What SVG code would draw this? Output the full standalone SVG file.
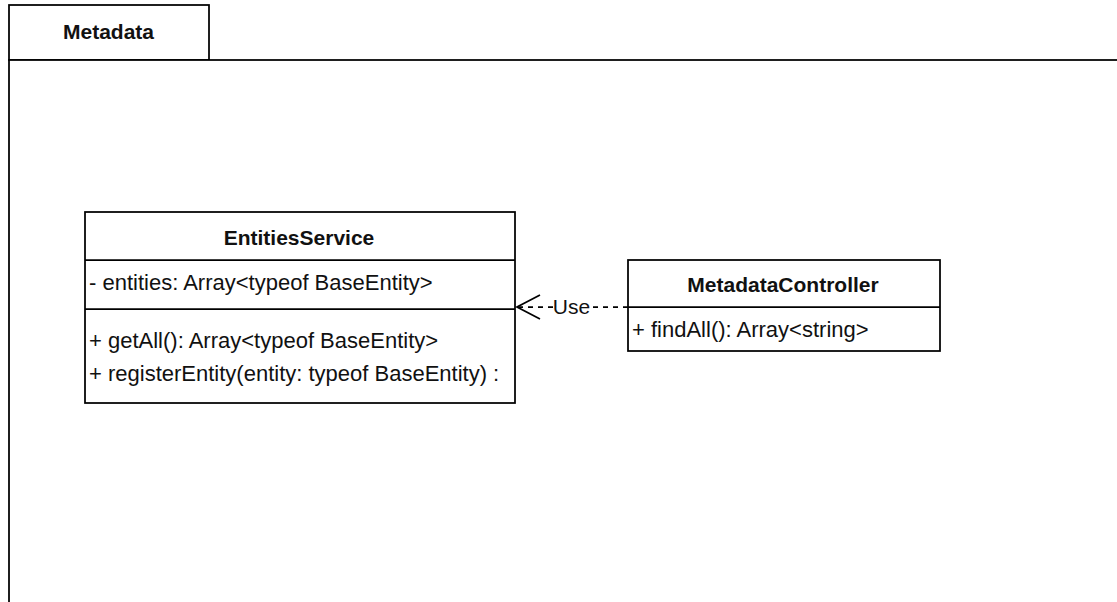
<svg xmlns="http://www.w3.org/2000/svg" width="1117" height="602" viewBox="0 0 1117 602">
<style>
.box{fill:#fff;stroke:#000;stroke-width:1.75}
.t{font-family:"Liberation Sans",Arial,sans-serif;font-size:22px;fill:#111}
.b{font-weight:bold;text-anchor:middle;font-size:21px}
.c{stroke:#000;stroke-width:1.75;fill:none}
.d{stroke:#000;stroke-width:1.75;fill:none;stroke-dasharray:5 5}
</style>
<rect width="1117" height="602" fill="#fff"/>
<g id="package">
<rect class="box" x="9" y="5" width="200" height="55"/>
<rect class="box" x="9" y="60" width="1130" height="560"/>
<text class="t b" x="108.5" y="39">Metadata</text>
</g>
<g id="entities-service">
<rect class="box" x="85" y="212" width="430" height="191"/>
<line class="c" x1="85" y1="260" x2="515" y2="260"/>
<line class="c" x1="85" y1="309" x2="515" y2="309"/>
<text class="t b" x="299" y="245">EntitiesService</text>
<text class="t" x="89" y="290">- entities: Array&lt;typeof BaseEntity&gt;</text>
<text class="t" x="89" y="348">+ getAll(): Array&lt;typeof BaseEntity&gt;</text>
<text class="t" x="89" y="381">+ registerEntity(entity: typeof BaseEntity) :</text>
</g>
<g id="metadata-controller">
<rect class="box" x="628" y="260" width="312" height="91"/>
<line class="c" x1="628" y1="307" x2="940" y2="307"/>
<text class="t b" x="783" y="292">MetadataController</text>
<text class="t" x="632" y="337">+ findAll(): Array&lt;string&gt;</text>
</g>
<g id="connectors">
<line class="d" x1="628" y1="307" x2="591" y2="307"/>
<line class="d" x1="553" y1="307" x2="518" y2="307"/>
<polyline class="c" points="540,295 517,307 540,319"/>
<text class="t" x="571.5" y="314" text-anchor="middle" style="font-size:21px">Use</text>
</g>
</svg>
